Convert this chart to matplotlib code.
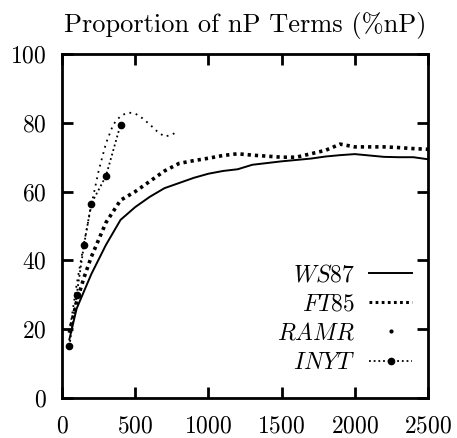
import matplotlib
matplotlib.use("Agg")
import matplotlib.pyplot as plt
from matplotlib.lines import Line2D

plt.rcParams['font.family'] = ['cmr10']
plt.rcParams['mathtext.fontset'] = 'cm'
plt.rcParams['axes.formatter.use_mathtext'] = True

title = "Proportion of nP Terms (%nP)"
labels = ["WS87", "FT85", "RAMR", "INYT"]

ws87_x = [50, 100, 200, 300, 400, 500, 600, 700, 800, 900, 1000, 1100, 1200, 1300,
          1400, 1500, 1600, 1700, 1800, 1900, 2000, 2100, 2200, 2300, 2400, 2500]
ws87_y = [17, 26, 36, 44.5, 51.8, 55.5, 58.5, 61, 62.5, 64, 65.2, 66, 66.5, 67.8,
          68.3, 68.8, 69.2, 69.6, 70.2, 70.6, 70.9, 70.5, 70.1, 70, 70, 69.4]

ft85_x = [50, 100, 150, 200, 250, 300, 400, 500, 600, 700, 800, 900, 1000, 1100, 1200,
          1300, 1400, 1500, 1600, 1700, 1800, 1900, 2000, 2100, 2200, 2300, 2400, 2500]
ft85_y = [19, 28, 35, 41, 46, 51, 57.5, 60, 63, 66, 68.2, 69, 69.7, 70.5, 71,
          70.6, 70.3, 70, 70, 71, 72, 73.8, 73, 73, 73, 72.8, 72.5, 72.3]

ramr_x = [50, 100, 150, 200, 250, 300, 350, 400, 450, 500, 550, 600, 650, 700, 750, 780]
ramr_y = [19, 33, 45, 56, 66, 74, 79.5, 82, 83, 82.7, 81.3, 79.5, 77.5, 76, 76.5, 77.3]

inyt_x = [50, 100, 150, 200, 300, 400]
inyt_y = [15, 30, 44.5, 56.5, 64.5, 79.5]

fig = plt.figure(figsize=(4.57, 4.38), dpi=100)
ax = fig.add_axes([0.1357, 0.0913, 0.8008, 0.7854])

ax.plot(ws87_x, ws87_y, color='k', lw=1.4, ls='-')
ax.plot(ft85_x, ft85_y, color='k', lw=2.6, ls=(0, (0.9, 1.1)))
ax.plot(ramr_x, ramr_y, color='k', lw=1.3, ls=(0, (1, 2.6)))
ax.plot(inyt_x, inyt_y, color='k', lw=1.3, ls=(0, (1, 1.6)), marker='o', markersize=4.5)

ax.set_xlim(0, 2500)
ax.set_ylim(0, 100)
ax.set_xticks([0, 500, 1000, 1500, 2000, 2500])
ax.set_yticks([0, 20, 40, 60, 80, 100])
ax.tick_params(direction='in', length=8, width=2, labelsize=17, top=True, right=True)
ax.tick_params(axis='y', pad=11)
ax.tick_params(axis='x', pad=12.5)
for s in ax.spines.values():
    s.set_linewidth(2)

ax.set_title(title, fontsize=19, pad=16)

handles = [
    Line2D([], [], color='k', lw=1.4, ls='-'),
    Line2D([], [], color='k', lw=2.2, ls=(0, (0.9, 1.1))),
    Line2D([], [], color='k', ls='none', marker='o', markersize=2),
    Line2D([], [], color='k', lw=1.3, ls=(0, (1, 1.6)), marker='o', markersize=4.5),
]
leg = ax.legend(handles, [r'$\mathit{%s}$' % l for l in labels], loc='lower right',
                bbox_to_anchor=(0.956, 0.07), frameon=False, markerfirst=False,
                fontsize=17, handlelength=1.8, handletextpad=0.6, labelspacing=0.3,
                borderpad=0, borderaxespad=0)

fig.savefig("out.png", dpi=100)
